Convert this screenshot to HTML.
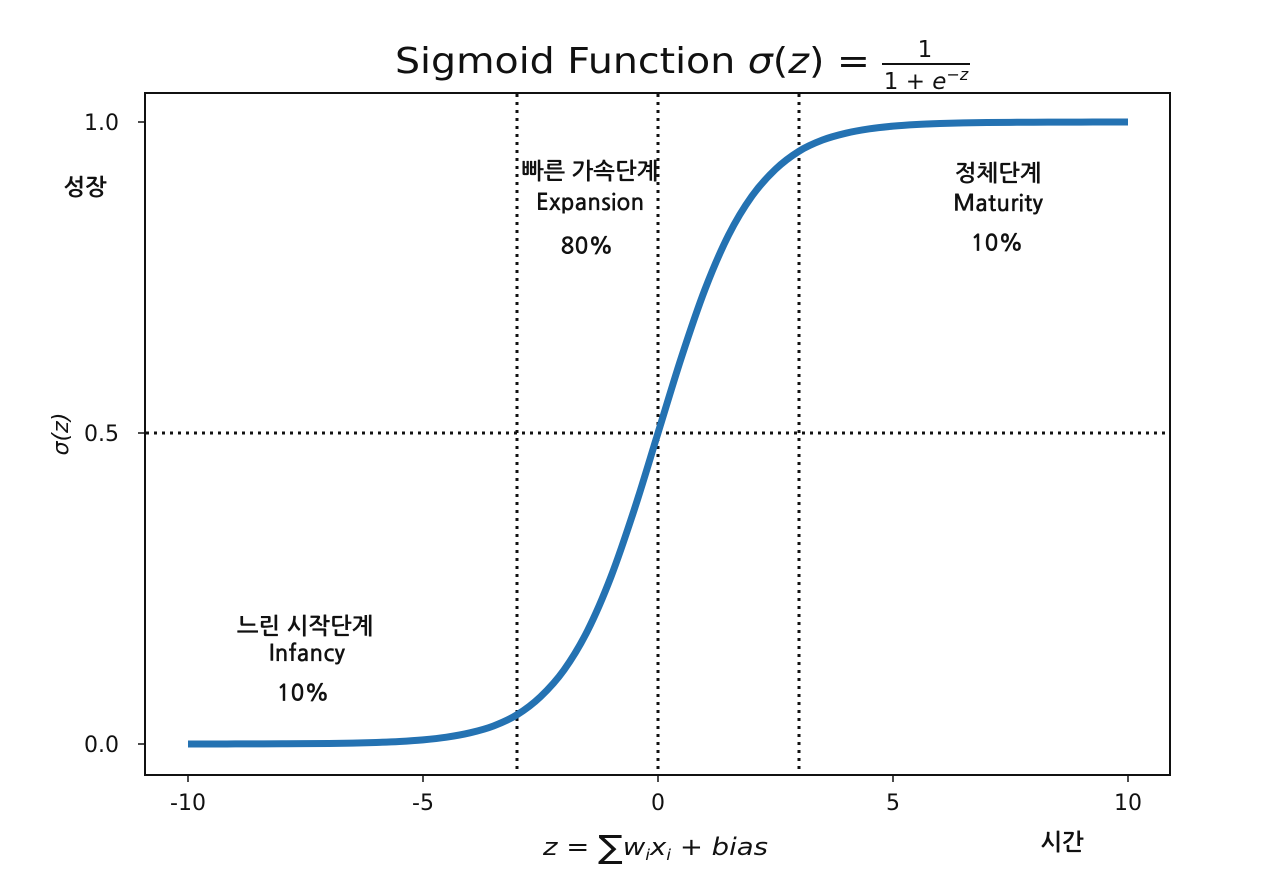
<!DOCTYPE html>
<html><head><meta charset="utf-8"><style>
html,body{margin:0;padding:0;background:#fff;}
svg{display:block;}
.k{font-family:"NanumGothic","Liberation Sans","Noto Sans CJK KR",sans-serif;font-weight:bold;font-size:23px;fill:#111;}
.t{font-family:"DejaVu Sans","Liberation Sans",sans-serif;font-size:22px;fill:#111;}
</style></head><body>
<svg id="chart" width="1280" height="893">
<text x="395" y="73" textLength="475" lengthAdjust="spacingAndGlyphs" font-family="DejaVu Sans, Liberation Sans, sans-serif" font-size="36" fill="#111">Sigmoid Function <tspan font-style="italic">σ</tspan>(<tspan font-style="italic">z</tspan>) =</text>
<text x="925" y="57" text-anchor="middle" font-family="DejaVu Sans, sans-serif" font-size="23" fill="#111">1</text>
<line x1="882" y1="64" x2="970" y2="64" stroke="#111" stroke-width="2"/>
<text x="926" y="89" text-anchor="middle" font-family="DejaVu Sans, sans-serif" font-size="23" fill="#111">1 + <tspan font-style="italic">e</tspan><tspan dy="-9" font-size="16">−<tspan font-style="italic">z</tspan></tspan></text>
<rect x="145" y="93" width="1025" height="682" fill="none" stroke="#111" stroke-width="2"/>
<g id="ticks"></g>
<g id="guides"></g>
<path id="curve" fill="none" stroke="#2472b2" stroke-width="7" stroke-linecap="butt"/>
<text x="68" y="434" class="t" font-size="24" transform="rotate(-90 68 434)" text-anchor="middle" dy="0" font-style="italic">σ(z)</text>
<text x="543" y="855" textLength="225" lengthAdjust="spacingAndGlyphs" font-family="DejaVu Sans, sans-serif" font-size="24" fill="#111" font-style="italic">z = <tspan font-style="normal" font-size="32" dy="3">∑</tspan><tspan dy="-3">w</tspan><tspan font-size="15" dy="5">i</tspan><tspan dy="-5">x</tspan><tspan font-size="15" dy="5">i</tspan><tspan dy="-5" font-style="normal"> + </tspan>bias</text>
<text x="85" y="195" class="k" text-anchor="middle">성장</text>
<text x="1062" y="850" class="k" text-anchor="middle">시간</text>
<g>
<text x="305" y="634" class="k" text-anchor="middle">느린 시작단계</text>
<text x="307" y="661" class="k" text-anchor="middle">Infancy</text>
<text x="303" y="701" class="k" text-anchor="middle">10%</text></g>
<g>
<text x="590" y="179" class="k" text-anchor="middle">빠른 가속단계</text>
<text x="590" y="210" class="k" text-anchor="middle">Expansion</text>
<text x="587" y="254" class="k" text-anchor="middle">80%</text></g>
<g>
<text x="998" y="181" class="k" text-anchor="middle">정체단계</text>
<text x="998" y="211" class="k" text-anchor="middle">Maturity</text>
<text x="997" y="251" class="k" text-anchor="middle">10%</text></g>
</svg>
<script>
const zValues=[-10,-9.5,-9,-8.5,-8,-7.5,-7,-6.5,-6,-5.5,-5,-4.5,-4,-3.5,-3,-2.5,-2,-1.5,-1,-0.5,0,0.5,1,1.5,2,2.5,3,3.5,4,4.5,5,5.5,6,6.5,7,7.5,8,8.5,9,9.5,10];
const sigmaValues=[0.00005,0.00007,0.00012,0.0002,0.00034,0.00055,0.0009,0.0015,0.0025,0.0041,0.0067,0.011,0.018,0.029,0.047,0.076,0.119,0.182,0.269,0.378,0.5,0.622,0.731,0.818,0.881,0.924,0.953,0.971,0.982,0.989,0.9933,0.9959,0.9975,0.9985,0.9991,0.99945,0.99966,0.9998,0.99988,0.99993,0.99995];
const xTickValues=[-10,-5,0,5,10];
const xTickLabels=["-10","-5","0","5","10"];
const yTickValues=[0,0.5,1];
const yTickLabels=["0.0","0.5","1.0"];
const phaseBoundaries=[-3,0,3];
const midLevel=0.5;
const X=v=>658+v*47, Y=v=>744-v*622;
const NS="http://www.w3.org/2000/svg";
const ticks=document.getElementById('ticks'), guides=document.getElementById('guides');
function mk(tag,attrs,parent){const e=document.createElementNS(NS,tag);for(const k in attrs)e.setAttribute(k,attrs[k]);parent.appendChild(e);return e;}
xTickValues.forEach((v,i)=>{
 const l=mk('line',{x1:X(v),x2:X(v),y1:775,y2:782,stroke:'#111','stroke-width':1.5},ticks);
 
 
 const t=mk('text',{x:X(v),y:810,'text-anchor':'middle',class:'t'},ticks);t.textContent=xTickLabels[i];
 
 
});
yTickValues.forEach((v,i)=>{
 const l=mk('line',{x1:138,x2:145,y1:Y(v),y2:Y(v),stroke:'#111','stroke-width':1.5},ticks);
 
 
 const t=mk('text',{x:119,y:Y(v)+8,'text-anchor':'end',class:'t'},ticks);t.textContent=yTickLabels[i];
 
 
});
phaseBoundaries.forEach(v=>{
 const l=mk('line',{x1:X(v),x2:X(v),y1:94,y2:774,stroke:'#111','stroke-width':3,'stroke-dasharray':'3,5'},guides);
 
 
});
const h=mk('line',{x1:146,x2:1169,y1:Y(midLevel),y2:Y(midLevel),stroke:'#111','stroke-width':3,'stroke-dasharray':'3,5'},guides);


const P=zValues.map((z,i)=>[X(z),Y(sigmaValues[i])]);
let d='M'+P[0][0]+','+P[0][1];
for(let i=0;i<P.length-1;i++){
 const p0=P[Math.max(0,i-1)],p1=P[i],p2=P[i+1],p3=P[Math.min(P.length-1,i+2)];
 const c1=[p1[0]+(p2[0]-p0[0])/6,p1[1]+(p2[1]-p0[1])/6],c2=[p2[0]-(p3[0]-p1[0])/6,p2[1]-(p3[1]-p1[1])/6];
 d+=` C${c1[0]},${c1[1]} ${c2[0]},${c2[1]} ${p2[0]},${p2[1]}`;
}
document.getElementById('curve').setAttribute('d',d);
</script>
</body></html>
